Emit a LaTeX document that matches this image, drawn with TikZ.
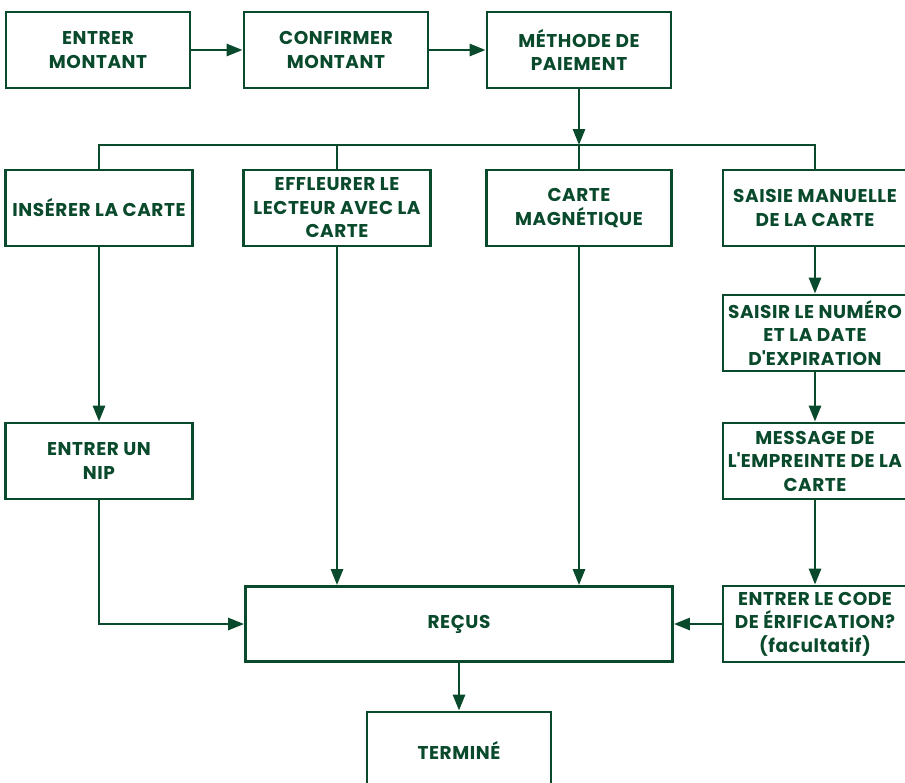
\documentclass[tikz,border=0pt]{standalone}
\usepackage{fontspec}
\setmainfont{Poppins}[LetterSpace=3]
\usetikzlibrary{arrows.meta}
\definecolor{fgreen}{HTML}{0A4A2C}
\begin{document}
\begin{tikzpicture}[x=1pt,y=-1pt,>={Triangle[length=16pt,width=12pt]},
    box/.style={draw=fgreen,line width=2.8pt,fill=white,text=fgreen,
        minimum width=184pt,minimum height=76pt,inner sep=0pt,align=center,
        font=\fontsize{18.5}{23.5}\selectfont\bfseries},
    link/.style={draw=fgreen,line width=2.8pt}]
    \useasboundingbox (0,0) rectangle (905,782);
    \clip (0,0) rectangle (905,782);
    \fill[white] (0,0) rectangle (905,782);

    % premiere rangee
    \node[box] (entrer) at (98,50) {ENTRER\\MONTANT};
    \node[box] (confirmer) at (336,50) {CONFIRMER\\MONTANT};
    \node[box] (methode) at (579,50) {MÉTHODE DE\\PAIEMENT};
    \draw[link,->] (entrer) -- (confirmer);
    \draw[link,->] (confirmer) -- (methode);

    % modes de paiement
    \node[box,minimum width=187pt] (inserer) at (99,208) {INSÉRER LA CARTE};
    \node[box,minimum width=187pt] (effleurer) at (337,208)
        {EFFLEURER LE\\LECTEUR AVEC LA\\CARTE};
    \node[box,minimum width=185pt] (magnetique) at (579,208)
        {CARTE\\MAGNÉTIQUE};
    \node[box] (saisie) at (815,208) {SAISIE MANUELLE\\DE LA CARTE};

    \coordinate (bus) at (579,145);
    \draw[link,->] (methode) -- (bus);
    \draw[link] (inserer.north) |- (bus) -| (saisie.north);
    \draw[link] (effleurer.north) -- (effleurer.north |- bus);
    \draw[link] (magnetique.north) -- (bus);

    % saisie manuelle
    \node[box] (numero) at (815,333)
        {SAISIR LE NUMÉRO\\ET LA DATE\\D\textquotesingle EXPIRATION};
    \node[box] (empreinte) at (815,461)
        {MESSAGE DE\\L\textquotesingle EMPREINTE DE LA\\CARTE};
    \node[box] (code) at (815,624)
        {ENTRER LE CODE\\DE ÉRIFICATION?\\(facultatif)};
    \draw[link,->] (saisie) -- (numero);
    \draw[link,->] (numero) -- (empreinte);
    \draw[link,->] (empreinte) -- (code);

    % NIP
    \node[box,minimum width=187pt] (nip) at (99,461) {ENTRER UN\\NIP};
    \draw[link,->] (inserer) -- (nip);

    % fin
    \node[box,minimum width=427pt,minimum height=75pt] (recus) at (459,624)
        {REÇUS};
    \node[box] (termine) at (459,750) {TERMINÉ};
    \draw[link,->] (nip.south) |- (recus.west);
    \draw[link,->] (effleurer.south) -- (effleurer.south |- recus.north);
    \draw[link,->] (magnetique.south) -- (magnetique.south |- recus.north);
    \draw[link,->] (code) -- (recus);
    \draw[link,->] (recus) -- (termine);
\end{tikzpicture}
\end{document}
